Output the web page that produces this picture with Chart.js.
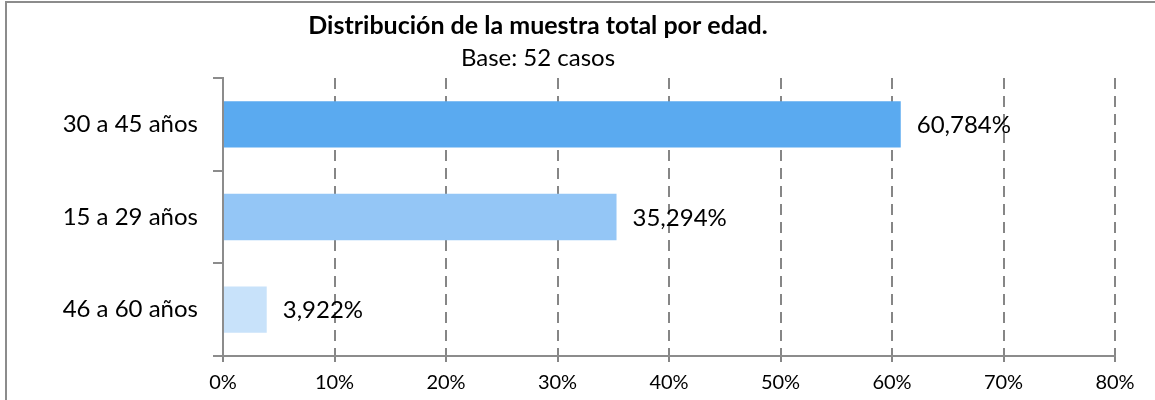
<!DOCTYPE html>
<html>
<head>
<meta charset="utf-8">
<script src="https://cdn.jsdelivr.net/npm/chart.js@4/dist/chart.umd.min.js"></script>
<style>
  html, body { margin: 0; padding: 0; background: #ffffff; }
  #wrap { width: 1155px; height: 400px; position: relative; }
</style>
</head>
<body>
<div id="wrap"><canvas id="c" width="1155" height="400"></canvas></div>
<script>
const categories = ["30 a 45 años", "15 a 29 años", "46 a 60 años"];
const values = [60.784, 35.294, 3.922];
const barColors = ["#5AAAF0", "#94C6F6", "#C8E2FA"];
const xTicks = [0, 10, 20, 30, 40, 50, 60, 70, 80];
const titleText = "Distribución de la muestra total por edad.";
const subtitleText = "Base: 52 casos";

const FONT = "Lato, 'Open Sans', sans-serif";

const framePlugin = {
  id: 'frame',
  beforeDraw(chart) {
    const ctx = chart.ctx;
    ctx.save();
    ctx.fillStyle = '#ffffff';
    ctx.fillRect(0, 0, chart.width, chart.height);
    ctx.strokeStyle = '#8c8c8c';
    ctx.lineWidth = 2;
    ctx.beginPath();
    ctx.moveTo(6, chart.height);
    ctx.lineTo(6, 2);
    ctx.lineTo(chart.width, 2);
    ctx.stroke();
    ctx.restore();
  },
  afterDraw(chart) {
    const ctx = chart.ctx;
    ctx.save();
    ctx.fillStyle = '#000000';
    ctx.textAlign = 'center';
    ctx.textBaseline = 'alphabetic';
    ctx.font = "bold 25px " + FONT;
    ctx.fillText(titleText, 538, 34);
    ctx.font = "24px " + FONT;
    ctx.fillText(subtitleText, 538, 66);
    ctx.restore();
  }
};

const labelPlugin = {
  id: 'barLabels',
  afterDatasetsDraw(chart) {
    const ctx = chart.ctx;
    const meta = chart.getDatasetMeta(0);
    ctx.save();
    ctx.fillStyle = '#000000';
    ctx.font = "24px " + FONT;
    ctx.textAlign = 'left';
    ctx.textBaseline = 'middle';
    meta.data.forEach((bar, i) => {
      const txt = values[i].toFixed(3).replace('.', ',') + '%';
      ctx.fillText(txt, bar.x + 16, bar.y + 1);
    });
    ctx.restore();
  }
};

new Chart(document.getElementById('c'), {
  type: 'bar',
  data: {
    labels: categories,
    datasets: [{
      data: values,
      backgroundColor: barColors,
      borderWidth: 0,
      barPercentage: 0.5,
      categoryPercentage: 1.0
    }]
  },
  options: {
    indexAxis: 'y',
    responsive: false,
    animation: false,
    devicePixelRatio: 1,
    layout: { padding: { top: 78, left: 0, right: 40, bottom: 0 } },
    plugins: { legend: { display: false }, tooltip: { enabled: false }, title: { display: false } },
    scales: {
      x: {
        min: 0, max: 80,
        afterBuildTicks(scale) { scale.ticks = xTicks.map(v => ({ value: v })); },
        afterFit(scale) { scale.height = 44; },
        ticks: {
          color: '#000000',
          font: { family: FONT, size: 20 },
          padding: 9,
          maxRotation: 0,
          callback: (v) => v + '%'
        },
        grid: {
          color: '#868686',
          lineWidth: 2,
          tickLength: 6,
          drawOnChartArea: true,
          drawTicks: true
        },
        border: { display: true, color: '#8c8c8c', width: 2, dash: [11, 7] }
      },
      y: {
        afterFit(scale) { scale.width = 223; },
        ticks: {
          color: '#000000',
          font: { family: FONT, size: 24 },
          padding: 15
        },
        grid: {
          offset: true,
          drawOnChartArea: false,
          drawTicks: true,
          tickLength: 10,
          color: '#8c8c8c',
          lineWidth: 2
        },
        border: { display: true, color: '#8c8c8c', width: 2 }
      }
    }
  },
  plugins: [framePlugin, labelPlugin]
});
</script>
</body>
</html>
